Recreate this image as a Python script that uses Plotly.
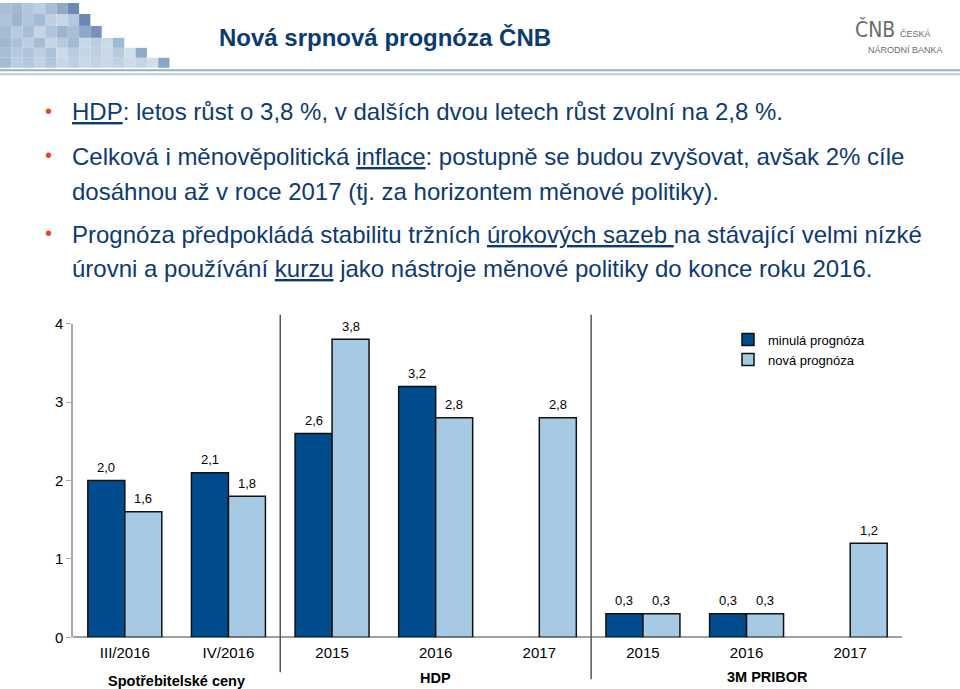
import plotly.graph_objects as go

# ---- data ----
categories = ["III/2016", "IV/2016", "2015", "2016", "2017", "2015", "2016", "2017"]
minula = [2.0, 2.1, 2.6, 3.2, None, 0.3, 0.3, None]
nova = [1.6, 1.8, 3.8, 2.8, 2.8, 0.3, 0.3, 1.2]
group_labels = ["Spotřebitelské ceny", "HDP", "3M PRIBOR"]
group_pos = [0.5, 3.0, 6.2]
separators = [1.5, 4.5]
y_ticks = [0, 1, 2, 3, 4]

W, H = 960, 689
DARK = "#004C8C"
LIGHT = "#A6CAE3"
TXT = "#0D3A72"
BARGAP = 0.286

def fmt(v):
    return "" if v is None else f"{v:.1f}".replace(".", ",")

xs = list(range(len(categories)))

fig = go.Figure()
fig.add_trace(go.Bar(x=xs, y=minula, name="minulá prognóza",
                     marker=dict(color=DARK, line=dict(color="#111", width=1.5))))
fig.add_trace(go.Bar(x=xs, y=nova, name="nová prognóza",
                     marker=dict(color=LIGHT, line=dict(color="#111", width=1.5))))

def px(x):
    return x / W

def py(y):
    # vertical placement, compensated for the slight vertical squeeze seen in the captured page
    return 1 - ((y - 6.0) / 0.9795) / H

shapes = []
# mosaic decoration
mos_rows = [
    (0, 11, ["#A9BDD5", "#A3B9D3", "#B3C7DC", "#BBCFE2", "#A7BDD6", "#8FA9C9", "#6D8AB3"]),
    (11, 23, ["#AFC3D9", "#9DB5D0", "#B0C5DB", "#A2BAD4", "#BDD0E3", "#C6D6E6", "#B3C8DD", "#6A88B2"]),
    (23, 35, ["#A5BCD5", "#B7CADF", "#A9BED6", "#C4D5E6", "#B0C4DA", "#9DB4CF", "#A9BFD7", "#8EA8C8", "#7593B9"]),
    (35, 45, ["#9FB7D1", "#ABC0D7", "#B9CCE0", "#A6BCD5", "#C3D4E5", "#B6CADE", "#A3BAD4", "#C9D8E8", "#BCCEE1", "#CBDAE9", "#9BBBD5"]),
    (45, 55, ["#A8BED6", "#B6C9DE", "#AFC4DA", "#BECFE2", "#ADC2D9", "#CBDAE8", "#BACDE0", "#C4D5E6", "#BDD0E2", "#C8D8E8", "#B7CBDF", "#D0DDEA", "#8FAAC8"]),
    (55, 65, ["#A4BBD4", "#BACDE0", "#B3C7DC", "#C2D3E5", "#B1C6DB", "#C6D6E7", "#BDCFE2", "#CAD9E8", "#C0D2E4", "#C9D8E7", "#BFD1E3", "#CDDBE9", "#C3D4E5", "#D2DFEB", "#86A6C8"]),
]
cw = 11.3
for (y0, y1, cols) in mos_rows:
    for i, c in enumerate(cols):
        shapes.append(dict(type="rect", xref="paper", yref="paper", x0=px(i * cw), x1=px((i + 1) * cw),
                           y0=py(y1), y1=py(y0), fillcolor=c, line=dict(width=0), layer="below"))
# double line under header
shapes.append(dict(type="line", xref="paper", yref="paper", x0=0, x1=1, y0=py(67.5), y1=py(67.5),
                   line=dict(color="#93B0C6", width=2)))
shapes.append(dict(type="line", xref="paper", yref="paper", x0=0, x1=1, y0=py(71.5), y1=py(71.5),
                   line=dict(color="#B9CCD8", width=2)))
# group separators
sep_bottom = [672, 679]
for s, b in zip(separators, sep_bottom):
    shapes.append(dict(type="line", xref="x", yref="paper", x0=s, x1=s, y0=py(313), y1=py(b),
                       line=dict(color="#555555", width=1.5)))

ann = []
# value labels above bars
half = (1 - BARGAP) / 4
for series, off in ((minula, -half), (nova, half)):
    for i, v in enumerate(series):
        if v is None:
            continue
        ann.append(dict(text=fmt(v), x=i + off, y=v, xref="x", yref="y", xanchor="center", yanchor="middle",
                        yshift=13, showarrow=False, font=dict(size=13, color="#000")))

ann.append(dict(text="<b>Nová srpnová prognóza ČNB</b>", x=px(217), y=py(35), xref="paper", yref="paper",
                xanchor="left", yanchor="middle", showarrow=False,
                font=dict(size=24, color="#0B3B70", family="Liberation Sans, Arial")))
# logo
ann.append(dict(text="ČNB", x=px(853), y=py(27), xref="paper", yref="paper", xanchor="left", yanchor="middle",
                showarrow=False, font=dict(size=21, color="#6B6B6B", family="DejaVu Sans Condensed, Liberation Sans")))
ann.append(dict(text="ČESKÁ", x=px(898), y=py(31), xref="paper", yref="paper", xanchor="left", yanchor="middle",
                showarrow=False, font=dict(size=9, color="#6B6B6B", family="Liberation Sans")))
ann.append(dict(text="NÁRODNÍ BANKA", x=px(866), y=py(47), xref="paper", yref="paper", xanchor="left", yanchor="middle",
                showarrow=False, font=dict(size=9, color="#6B6B6B", family="Liberation Sans")))

bullet_lines = [
    (109, True, "<u>HDP</u>: letos růst o 3,8 %, v dalších dvou letech růst zvolní na 2,8 %."),
    (154, True, "Celková i měnověpolitická <u>inflace</u>: postupně se budou zvyšovat, avšak 2% cíle"),
    (189, False, "dosáhnou až v roce 2017 (tj. za horizontem měnové politiky)."),
    (232, True, "Prognóza předpokládá stabilitu tržních <u>úrokových sazeb </u>na stávající velmi nízké"),
    (267, False, "úrovni a používání <u>kurzu</u> jako nástroje měnové politiky do konce roku 2016."),
]
BF = "Liberation Sans, Arial"
for (y, bullet, t) in bullet_lines:
    if bullet:
        ann.append(dict(text="•", x=px(48), y=py(y - 1), xref="paper", yref="paper", xanchor="center", yanchor="middle",
                        showarrow=False, font=dict(size=20, color="#E8472D", family="Liberation Sans")))
    ann.append(dict(text=t, x=px(70), y=py(y), xref="paper", yref="paper", xanchor="left", yanchor="middle",
                    showarrow=False, font=dict(size=24, color=TXT, family=BF)))

for lbl, gx, gy in zip(group_labels, group_pos, [681, 678, 677]):
    ann.append(dict(text=f"<b>{lbl}</b>", x=gx, y=py(gy), xref="x", yref="paper",
                    xanchor="center", yanchor="middle", showarrow=False, font=dict(size=14.5, color="#000")))

fig.update_layout(
    width=W, height=H, margin=dict(l=0, r=0, t=0, b=0),
    paper_bgcolor="white", plot_bgcolor="white",
    font=dict(family="Liberation Sans, Arial", color="#000"),
    barmode="group", bargap=BARGAP, bargroupgap=0,
    showlegend=True,
    legend=dict(x=px(728), y=py(323), xanchor="left", yanchor="top", bgcolor="rgba(0,0,0,0)",
                font=dict(size=13, color="#000"), tracegroupgap=0, itemwidth=30),
    xaxis=dict(domain=[px(73), px(902)], range=[-0.5, 7.5], tickmode="array", tickvals=xs, ticktext=categories,
               showgrid=False, zeroline=False, showline=False, ticks="outside", ticklen=2,
               tickcolor="rgba(0,0,0,0)", tickfont=dict(size=15, color="#000")),
    yaxis=dict(domain=[py(637), py(322)], range=[0, 4], tickvals=y_ticks, showgrid=False, zeroline=True,
               zerolinecolor="#A0A0A0", zerolinewidth=1.5,
               showline=True, linecolor="#A8A8A8", linewidth=1.5, ticks="outside", ticklen=5, tickcolor="#A8A8A8",
               tickfont=dict(size=15, color="#000")),
    shapes=shapes, annotations=ann,
)
fig.write_html("out.html")
